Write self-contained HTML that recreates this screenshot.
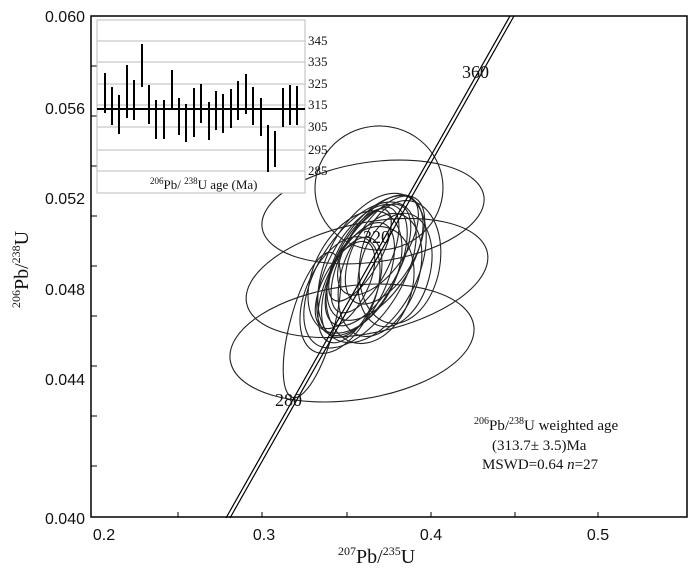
<!DOCTYPE html>
<html><head><meta charset="utf-8"><style>
html,body{margin:0;padding:0;background:#fff;}
svg{display:block;font-family:"Liberation Serif",serif;}
</style></head><body>
<svg width="700" height="575" viewBox="0 0 700 575" xmlns="http://www.w3.org/2000/svg">
<rect width="700" height="575" fill="#fff"/>
<!-- ellipses -->
<g fill="none" stroke="#222" stroke-width="1.1">
<ellipse cx="373" cy="212" rx="112" ry="50" transform="rotate(-8 373 212)"/>
<ellipse cx="367" cy="278" rx="123" ry="55" transform="rotate(-12 367 278)"/>
<ellipse cx="352" cy="343" rx="123" ry="57" transform="rotate(-8 352 343)"/>
<ellipse cx="379" cy="188" rx="64" ry="62" transform="rotate(-5 379 188)"/>
<ellipse cx="312" cy="325" rx="75" ry="22" transform="rotate(-75 312 325)"/>
<ellipse cx="362" cy="270" rx="72" ry="34" transform="rotate(-62 362 270)"/>
<ellipse cx="368" cy="265" rx="68" ry="30" transform="rotate(-60 368 265)"/>
<ellipse cx="358" cy="280" rx="62" ry="28" transform="rotate(-65 358 280)"/>
<ellipse cx="375" cy="258" rx="70" ry="36" transform="rotate(-58 375 258)"/>
<ellipse cx="355" cy="272" rx="66" ry="40" transform="rotate(-62 355 272)"/>
<ellipse cx="380" cy="275" rx="64" ry="38" transform="rotate(-70 380 275)"/>
<ellipse cx="365" cy="260" rx="58" ry="24" transform="rotate(-63 365 260)"/>
<ellipse cx="350" cy="290" rx="56" ry="26" transform="rotate(-68 350 290)"/>
<ellipse cx="385" cy="250" rx="60" ry="30" transform="rotate(-60 385 250)"/>
<ellipse cx="370" cy="285" rx="60" ry="42" transform="rotate(-72 370 285)"/>
<ellipse cx="360" cy="255" rx="52" ry="20" transform="rotate(-60 360 255)"/>
<ellipse cx="345" cy="285" rx="48" ry="22" transform="rotate(-62 345 285)"/>
<ellipse cx="395" cy="270" rx="58" ry="35" transform="rotate(-75 395 270)"/>
<ellipse cx="360" cy="275" rx="82" ry="42" transform="rotate(-58 360 275)"/>
<ellipse cx="372" cy="268" rx="80" ry="46" transform="rotate(-64 372 268)"/>
<ellipse cx="400" cy="262" rx="62" ry="40" transform="rotate(-80 400 262)"/>
<ellipse cx="340" cy="295" rx="62" ry="34" transform="rotate(-66 340 295)"/>
<ellipse cx="378" cy="245" rx="58" ry="28" transform="rotate(-55 378 245)"/>
</g>
<!-- concordia -->
<line x1="226" y1="518" x2="510" y2="16" stroke="#000" stroke-width="1.2"/>
<line x1="230" y1="518" x2="514" y2="16" stroke="#000" stroke-width="1.2"/>
<text x="462" y="78" font-size="18" fill="#111">360</text>
<text x="363" y="243" font-size="18" fill="#111">320</text>
<text x="275" y="406" font-size="18" fill="#111">280</text>
<!-- frame -->
<rect x="91" y="16" width="596" height="501" fill="none" stroke="#000" stroke-width="1.5"/>
<g stroke="#000" stroke-width="1">
<line x1="91" y1="66" x2="97" y2="66"/><line x1="91" y1="116" x2="97" y2="116"/>
<line x1="91" y1="166" x2="97" y2="166"/><line x1="91" y1="216" x2="97" y2="216"/>
<line x1="91" y1="266" x2="97" y2="266"/><line x1="91" y1="316" x2="97" y2="316"/>
<line x1="91" y1="366" x2="97" y2="366"/><line x1="91" y1="416" x2="97" y2="416"/>
<line x1="91" y1="466" x2="97" y2="466"/>
<line x1="178" y1="517" x2="178" y2="512"/><line x1="262" y1="517" x2="262" y2="512"/>
<line x1="347" y1="517" x2="347" y2="512"/><line x1="431" y1="517" x2="431" y2="512"/>
<line x1="515" y1="517" x2="515" y2="512"/><line x1="598" y1="517" x2="598" y2="512"/>
</g>
<g font-family="Liberation Sans, sans-serif" font-size="16" fill="#111" text-anchor="end">
<text x="85" y="22">0.060</text><text x="85" y="114">0.056</text>
<text x="85" y="204">0.052</text><text x="85" y="295">0.048</text>
<text x="85" y="385">0.044</text><text x="85" y="524">0.040</text>
</g>
<g font-family="Liberation Sans, sans-serif" font-size="16" fill="#111" text-anchor="middle">
<text x="104" y="540">0.2</text><text x="264" y="540">0.3</text>
<text x="431" y="540">0.4</text><text x="598" y="540">0.5</text>
</g>
<text x="338" y="563" font-size="20" fill="#111"><tspan font-size="12" dy="-8">207</tspan><tspan dy="8">Pb/</tspan><tspan font-size="12" dy="-8">235</tspan><tspan dy="8">U</tspan></text>
<text transform="translate(28 308) rotate(-90)" font-size="20" fill="#111"><tspan font-size="12" dy="-8">206</tspan><tspan dy="8">Pb/</tspan><tspan font-size="12" dy="-8">238</tspan><tspan dy="8">U</tspan></text>
<!-- annotation -->
<text x="474" y="430" font-size="15" fill="#111"><tspan font-size="10" dy="-6">206</tspan><tspan dy="6">Pb/</tspan><tspan font-size="10" dy="-6">238</tspan><tspan dy="6">U  weighted age</tspan></text>
<text x="492" y="450" font-size="15" fill="#111">(313.7± 3.5)Ma</text>
<text x="482" y="469" font-size="15" fill="#111">MSWD=0.64  <tspan font-style="italic">n</tspan>=27</text>
<!-- inset -->
<rect x="97" y="20" width="208" height="173" fill="#fff" stroke="#bbb" stroke-width="1"/>
<g stroke="#bbb" stroke-width="1">
<line x1="97" y1="41" x2="305" y2="41"/><line x1="97" y1="62" x2="305" y2="62"/>
<line x1="97" y1="84" x2="305" y2="84"/><line x1="97" y1="105" x2="305" y2="105"/>
<line x1="97" y1="127" x2="305" y2="127"/><line x1="97" y1="150" x2="305" y2="150"/>
<line x1="97" y1="171" x2="305" y2="171"/>
</g>
<g stroke="#000" stroke-width="2">
<line x1="105" y1="73" x2="105" y2="113"/><line x1="112" y1="87" x2="112" y2="125"/>
<line x1="119" y1="95" x2="119" y2="134"/><line x1="127" y1="65" x2="127" y2="118"/>
<line x1="134" y1="80" x2="134" y2="120"/><line x1="142" y1="44" x2="142" y2="87"/>
<line x1="149" y1="85" x2="149" y2="124"/><line x1="156" y1="100" x2="156" y2="139"/>
<line x1="164" y1="100" x2="164" y2="139"/><line x1="172" y1="70" x2="172" y2="110"/>
<line x1="179" y1="98" x2="179" y2="135"/><line x1="186" y1="104" x2="186" y2="142"/>
<line x1="194" y1="88" x2="194" y2="137"/><line x1="201" y1="84" x2="201" y2="123"/>
<line x1="209" y1="102" x2="209" y2="140"/><line x1="216" y1="91" x2="216" y2="130"/>
<line x1="223" y1="94" x2="223" y2="133"/><line x1="231" y1="89" x2="231" y2="128"/>
<line x1="238" y1="81" x2="238" y2="120"/><line x1="246" y1="74" x2="246" y2="114"/>
<line x1="253" y1="87" x2="253" y2="125"/><line x1="261" y1="98" x2="261" y2="136"/>
<line x1="268" y1="125" x2="268" y2="172"/><line x1="275" y1="131" x2="275" y2="167"/>
<line x1="283" y1="88" x2="283" y2="127"/><line x1="290" y1="85" x2="290" y2="125"/>
<line x1="297" y1="86" x2="297" y2="125"/>
</g>
<line x1="97" y1="109" x2="305" y2="109" stroke="#000" stroke-width="2"/>
<g font-size="13" fill="#111">
<text x="308" y="45">345</text><text x="308" y="66">335</text><text x="308" y="88">325</text>
<text x="308" y="109">315</text><text x="308" y="131">305</text><text x="308" y="154">295</text>
<text x="308" y="175">285</text>
</g>
<text x="150" y="189" font-size="13" fill="#111"><tspan font-size="9" dy="-5">206</tspan><tspan dy="5">Pb/ </tspan><tspan font-size="9" dy="-5">238</tspan><tspan dy="5">U  age  (Ma)</tspan></text>
</svg>
</body></html>
